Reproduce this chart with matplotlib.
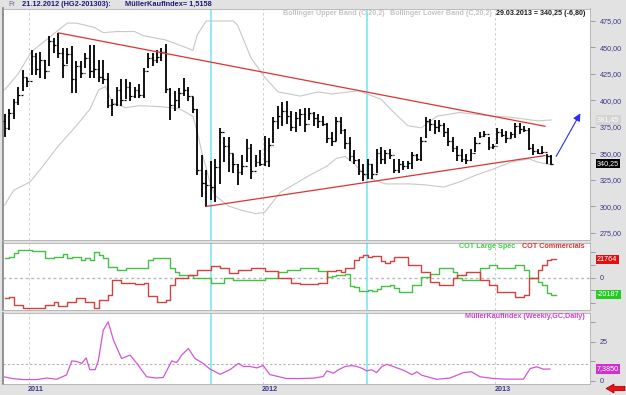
import matplotlib
matplotlib.use("Agg")
import matplotlib.pyplot as plt
from matplotlib.patches import Polygon
from matplotlib.transforms import blended_transform_factory
import numpy as np

W, H = 626, 395

# weekly copper bars (HG), 26.11.2010 .. 29.03.2013
bar_high = [387, 392, 401, 413, 429, 421, 448, 445, 446, 438,
            461, 459, 464, 449, 449, 451, 437, 437, 445, 452,
            452, 438, 438, 426, 401, 413, 420, 420, 417, 413,
            415, 431, 445, 445, 448, 449, 453, 412, 409, 412,
            421, 413, 403, 392, 348, 334, 343, 345, 374, 365,
            365, 349, 340, 348, 363, 359, 348, 353, 366, 364,
            384, 395, 398, 399, 390, 389, 392, 393, 393, 389,
            387, 385, 379, 370, 384, 384, 373, 365, 353, 345,
            340, 345, 340, 354, 356, 353, 354, 345, 345, 343,
            343, 351, 349, 365, 384, 382, 381, 381, 379, 374,
            365, 357, 354, 349, 354, 365, 370, 371, 365, 359,
            374, 373, 371, 370, 379, 379, 376, 374, 359, 354,
            357, 349, 348]
bar_low = [365, 372, 382, 396, 409, 413, 424, 424, 421, 420,
           432, 445, 440, 421, 434, 407, 407, 421, 431, 421,
           421, 417, 415, 393, 385, 395, 395, 401, 399, 402,
           402, 402, 431, 432, 435, 437, 407, 381, 390, 393,
           404, 399, 388, 329, 309, 299.5, 306, 304, 321, 342,
           332, 331, 320, 329, 342, 326, 337, 338, 338, 337,
           360, 373, 376, 378, 371, 370, 376, 370, 381, 376,
           374, 376, 360, 357, 362, 368, 354, 343, 340, 329,
           324, 326, 326, 331, 340, 340, 345, 331, 331, 334,
           335, 335, 343, 343, 364, 371, 368, 370, 365, 357,
           351, 343, 342, 340, 343, 351, 364, 365, 353, 354,
           359, 365, 360, 364, 364, 368, 370, 353, 348, 349,
           349, 340, 338.5]
bar_close = [374, 388, 398, 405, 422, 418, 442, 430, 438, 428,
             456, 452, 445, 433, 444, 420, 432, 426, 440, 428,
             430, 422, 420, 396, 397, 410, 400, 413, 404, 410,
             405, 428, 440, 438, 441, 446, 411, 396, 400, 407,
             410, 404, 392, 334, 322, 320, 318, 337, 370, 357,
             350, 340, 332, 338, 355, 333, 342, 340, 343, 358,
             380, 385, 390, 385, 375, 383, 387, 378, 388, 383,
             380, 378, 364, 362, 380, 372, 360, 347, 344, 333,
             330, 340, 330, 350, 345, 350, 348, 334, 340, 338,
             341, 348, 345, 362, 380, 378, 375, 377, 370, 362,
             355, 348, 345, 344, 350, 360, 366, 368, 356, 357,
             370, 367, 364, 368, 376, 373, 372, 355, 352, 350,
             351, 347, 340.25]
first_open = 380

# Bollinger bands (C,20,2), read at selected weeks
boll_up_x = [0, 3, 6, 11, 14, 16, 20, 22, 25, 29, 31, 36, 41, 42, 43, 45, 51, 52,
             55, 58, 61, 66, 70, 73, 79, 84, 87, 90, 93, 96.5, 101.5, 109, 113, 119, 122]
boll_up = [410, 425, 446, 463, 473, 473, 469, 464, 465, 465, 461, 457, 449, 447, 462, 475, 475, 471,
           440, 422, 408, 404, 408, 406, 409, 401, 388, 376, 374, 385, 388.5, 385, 384, 380.6, 381.45]
boll_lo_x = [0, 2, 5.7, 8, 12, 16, 19, 21, 22.5, 24, 27, 30, 35, 39, 42, 43, 44, 46, 47, 50,
             53, 56, 58, 61.5, 64.4, 68, 72, 74, 76, 78, 81, 85, 90.5, 94, 98, 101.6, 105,
             109, 113, 117, 119, 122]
boll_lo = [301, 315, 323, 335, 357, 376, 391.5, 410, 413, 398, 393, 395, 394, 392, 385, 370, 351, 320, 310, 300,
           296, 293, 294, 313, 320, 329, 338, 345, 347, 340, 327, 321, 321, 320, 318, 323, 329,
           335, 341.6, 344.7, 341.6, 339]

# drawn trend lines and forecast arrow
trend_top_x = [12, 120.6]
trend_top = [463.75, 375.5]
trend_bot_x = [45, 120.6]
trend_bot = [299.7, 347.8]
arrow_x = [122.8, 128.8]
arrow_y = [344.7, 390.0]

# COT positions (contracts), change points per week
cot_spec_x = [0, 1, 2, 3, 6, 9, 11, 13, 14, 15, 17, 18, 19, 20, 21, 22, 23, 25, 27, 32, 33,
              37, 38, 39, 42, 46, 49, 51, 58, 61, 63, 66, 69, 70, 72, 73, 74, 76, 77, 78, 79,
              81, 82, 83, 84, 86, 87, 88, 91, 93, 95, 97, 100, 101, 102, 106, 108, 110, 114,
              116, 117, 119, 120, 121, 122, 123]
cot_spec = [22800, 24700, 28600, 32500, 31300, 23500, 24700, 27400, 23500, 24700, 20800, 23500,
            20800, 30500, 26600, 22800, 12900, 9000, 11000, 20600, 23500,
            11000, 7000, 3100, -800, -6600, 0, -2700, -800, 7000, 9000, 11000, 11400, 8200, 500,
            2500, 3100, 3900, -10100, -11300, -15300,
            -14100, -16000, -12900, -10100, -8200, -12100, -16500, -8200, 1200, 3900, 11000, 6300,
            -800, -2700, 11000, 15000, 11000, 14900,
            9000, 0, -5500, -8600, -18400, -20187, -20187]
cot_comm_x = [0, 1, 2, 4, 9, 11, 12, 14, 16, 18, 20, 21, 23, 24, 26, 29, 31, 32, 34, 36, 37,
              38, 41, 43, 46, 48, 50, 52, 55, 58, 61, 64, 66, 70, 72, 74, 75, 76, 78, 79, 80,
              81, 82, 84, 85, 86, 87, 90, 93, 95, 97, 100, 101, 103, 106, 108, 110, 114, 116,
              117, 119, 120, 121, 122, 123]
cot_comm = [-24200, -22300, -32000, -35900, -32000, -28100, -33600, -29000, -24200, -28100,
            -35900, -26200, -20300, -2700, -6600, -7800, -6600, -22000, -28100, -26200, -8600,
            -800, 3100, 9000, 14100, 11000, 5100, 9000, 11000, 8000, 0, -6600, -7400, -6000,
            7500, 9500, 6600, 11400, 21200, 23900, 27000,
            23900, 25100, 19200, 17200, 19900, 24700, 14900, 7000, -4700, -8600, -800, 3100,
            7000, -2700, -8600, -16500, -22400, -20400,
            -800, 9000, 14900, 20800, 21764, 21764]

# MuellerKaufIndex (Weekly, GC, Daily)
mki_x = [0, 1.9, 4.2, 7.1, 9.4, 11.6, 13.8, 15, 16.1, 17.2, 18.2, 19, 20.2, 20.9, 22, 23.1,
         24.3, 26.1, 28, 29.5, 31.7, 33.9, 35.4, 37.3, 38.4, 39.5, 41, 42.5, 44.3, 45.8,
         48.1, 50.3, 52.2, 53.3, 54.8, 56.3, 57.7, 59.2, 62.9, 66, 68.9, 71.1, 71.9, 73.4,
         74.5, 76, 77.5, 78.6, 79.7, 80.8, 81.9, 83, 84.2, 85.3, 86.7, 89, 90.9, 92, 93.1,
         96.4, 99.4, 102.4, 104.2, 106.1, 109.1, 112, 115.8, 117.3, 118.8, 120.2, 121.7]
mki = [2.3, 1.2, 0.6, 0.6, 1.6, 0.8, 3.6, 12.6, 12.2, 11.0, 14.5, 7.0, 7.0, 12.6, 32.2, 37.6,
       25.8, 14.1, 16.3, 11.0, 2.4, 1.6, 2.0, 12.6, 11.5, 16.3, 20.5, 14.1, 11.0, 7.4,
       4.0, 7.0, 11.0, 9.0, 9.0, 8.1, 9.6, 3.8, 1.3, 1.3, 1.5, 2.6, 6.2, 4.7,
       6.9, 9.0, 9.6, 9.0, 7.9, 6.2, 6.9, 5.1, 9.0, 10.4, 9.0, 6.6, 3.8, 5.6, 3.4,
       0.8, 1.6, 5.1, 5.6, 2.4, 1.3, 0.9, 0.9, 7.7, 8.8, 7.3, 7.385]
mki_level = 10.6

year_x = [5.4, 57.6, 109.5]
year_lbl = ["2011", "2012", "2013"]
marker_x = [46.05, 80.9]
price_ticks = [275, 300, 325, 350, 375, 400, 425, 450, 475]

plt.rcParams['font.family'] = ['Liberation Sans', 'DejaVu Sans']

BG = '#e2e2e2'
AXC = '#3a3a8a'


def box(x0, y0, x1, y1):
    return [x0 / W, 1 - y1 / H, (x1 - x0) / W, (y1 - y0) / H]


def ftext(x, y, s, **kw):
    fig.text(x / W, 1 - y / H, s, va='center', **kw)


fig = plt.figure(figsize=(W / 100, H / 100), dpi=100, facecolor=BG)
ax = fig.add_axes(box(3, 8.5, 590, 240))
axc = fig.add_axes(box(3, 242.5, 590, 310), sharex=ax)
axm = fig.add_axes(box(3, 313, 590, 383.5), sharex=ax)

for a in (ax, axc, axm):
    a.set_facecolor('white')
    for s in ('top', 'bottom', 'right'):
        a.spines[s].set_color('#b0b0b0')
        a.spines[s].set_linewidth(0.6)
    a.spines['left'].set_color('#808080')
    a.spines['left'].set_linewidth(1.2)
    a.yaxis.tick_right()
    a.tick_params(axis='y', length=3.6, width=0.6, color='#909090', labelsize=5.2,
                  labelcolor=AXC, pad=3.5)
    a.tick_params(axis='x', length=0, labelbottom=False)
    for xv in year_x:
        a.axvline(xv, color='#c8c8c8', lw=0.6, ls=(0, (3, 3)), zorder=0)
    for xv in marker_x:
        a.axvline(xv, color='#7ae8f2', lw=1.2, zorder=1)

ax.set_xlim(-0.37, 130.65)

# price panel
idx = np.arange(len(bar_close))
bar_open = [first_open] + bar_close[:-1]
ax.plot(boll_up_x, boll_up, color='#c8c8c8', lw=0.8, zorder=2)
ax.plot(boll_lo_x, boll_lo, color='#c8c8c8', lw=0.8, zorder=2)
ax.vlines(idx, bar_low, bar_high, color='black', lw=1.3, zorder=3)
ax.hlines(bar_open, idx - 0.4, idx, color='black', lw=0.9, zorder=3)
ax.hlines(bar_close, idx, idx + 0.4, color='black', lw=0.9, zorder=3)
ax.plot(trend_top_x, trend_top, color='#dd3333', lw=0.9, zorder=4)
ax.plot(trend_bot_x, trend_bot, color='#dd3333', lw=0.9, zorder=4)
ax.annotate('', xy=(arrow_x[1], arrow_y[1]), xytext=(arrow_x[0], arrow_y[0]),
            arrowprops=dict(arrowstyle='-|>', color='#2a2aff', lw=0.8, mutation_scale=11))
ax.set_ylim(268, 486.8)
ax.set_yticks(price_ticks)
ax.set_yticklabels([f"{v:.2f}".replace('.', ',') for v in price_ticks])

tr = blended_transform_factory(ax.transAxes, ax.transData)
ax.text(1.012, boll_up[-1], f"{boll_up[-1]:.2f}".replace('.', ','), transform=tr,
        fontsize=5.2, color='white', va='center', ha='left',
        bbox=dict(boxstyle='square,pad=0.15', fc='#d4d4d4', ec='none'))
ax.text(1.012, bar_close[-1], f"{bar_close[-1]:.2f}".replace('.', ','), transform=tr,
        fontsize=5.2, color='white', va='center', ha='left',
        bbox=dict(boxstyle='square,pad=0.15', fc='black', ec='none'))

# COT panel
axc.step(cot_spec_x, cot_spec, where='post', color='#44c044', lw=1.0)
axc.step(cot_comm_x, cot_comm, where='post', color='#d24040', lw=1.0)
axc.axhline(0, color='#b8b8b8', lw=1.0, ls=(0, (2, 2)), zorder=0)
axc.set_ylim(-37950, 41400)
axc.set_yticks([0])
axc.set_yticklabels(['0'])
axc.set_yticks([-30000, -15000, 15000, 30000], minor=True)
axc.tick_params(axis='y', which='minor', length=3.6, width=0.6, color='#909090')
trc = blended_transform_factory(axc.transAxes, axc.transData)
axc.text(1.012, cot_comm[-1], str(cot_comm[-1]), transform=trc, fontsize=5.2, color='white',
         va='center', ha='left', bbox=dict(boxstyle='square,pad=0.15', fc='#dd1111', ec='none'))
axc.text(1.012, cot_spec[-1], str(cot_spec[-1]), transform=trc, fontsize=5.2, color='white',
         va='center', ha='left', bbox=dict(boxstyle='square,pad=0.15', fc='#22cc22', ec='none'))

# MuellerKaufIndex panel
axm.plot(mki_x, mki, color='#d455d4', lw=0.9)
axm.axhline(mki_level, color='#b0b0b0', lw=0.8, ls=(0, (2, 2)), zorder=0)
axm.set_ylim(-1.9, 43.3)
axm.set_yticks([0, 25])
axm.set_yticklabels(['0', '25'])
axm.set_yticks([12.5, 37.5], minor=True)
axm.tick_params(axis='y', which='minor', length=3.6, width=0.6, color='#909090')
trm = blended_transform_factory(axm.transAxes, axm.transData)
axm.text(1.012, mki[-1], f"{mki[-1]:.4f}".replace('.', ','), transform=trm, fontsize=5.2,
         color='white', va='center', ha='left',
         bbox=dict(boxstyle='square,pad=0.15', fc='#cc33cc', ec='none'))
trx = blended_transform_factory(axm.transData, axm.transAxes)
for xv, lbl in zip(year_x, year_lbl):
    axm.text(xv + 1.6, -0.085, lbl, transform=trx, fontsize=5.2, color=AXC,
             fontweight='bold', ha='center', va='center')

# header and legends
ftext(8, 4.5, 'Fr', fontsize=5, color='#5a6a9a')
ftext(22, 4.5, '21.12.2012 (HG2-201303):', fontsize=5.3, color='#1c1c78', fontweight='bold')
ftext(125, 4.5, 'MüllerKaufIndex= 1,5158', fontsize=5.3, color='#1c1c78', fontweight='bold')
ftext(283, 13.5, 'Bollinger Upper Band (C,20,2)', fontsize=5.1, color='#c4c4c4', fontweight='bold')
ftext(390, 13.5, 'Bollinger Lower Band (C,20,2)', fontsize=5.1, color='#c4c4c4', fontweight='bold')
ftext(585, 13.5, '29.03.2013 = 340,25 (-6,80)', fontsize=5.1, color='#1a1a1a',
      fontweight='bold', ha='right')
ftext(459, 246.5, 'COT Large Spec', fontsize=5.2, color='#44cc44', fontweight='bold')
ftext(585, 246.5, 'COT Commercials', fontsize=5.2, color='#dd3333', fontweight='bold', ha='right')
ftext(585, 316.5, 'MüllerKaufIndex (Weekly,GC,Daily)', fontsize=5.2, color='#cc44cc',
      fontweight='bold', ha='right')

# small red scroll arrow, bottom right
pts = [(606, 388.5), (614, 384), (614, 386.3), (625, 386.3), (625, 390.7), (614, 390.7), (614, 393)]
fig.add_artist(Polygon([(x / W, 1 - y / H) for x, y in pts], closed=True,
                       transform=fig.transFigure, fc='#ee1111', ec='#990000', lw=0.5))

fig.savefig('out.png', dpi=100, facecolor=BG)
